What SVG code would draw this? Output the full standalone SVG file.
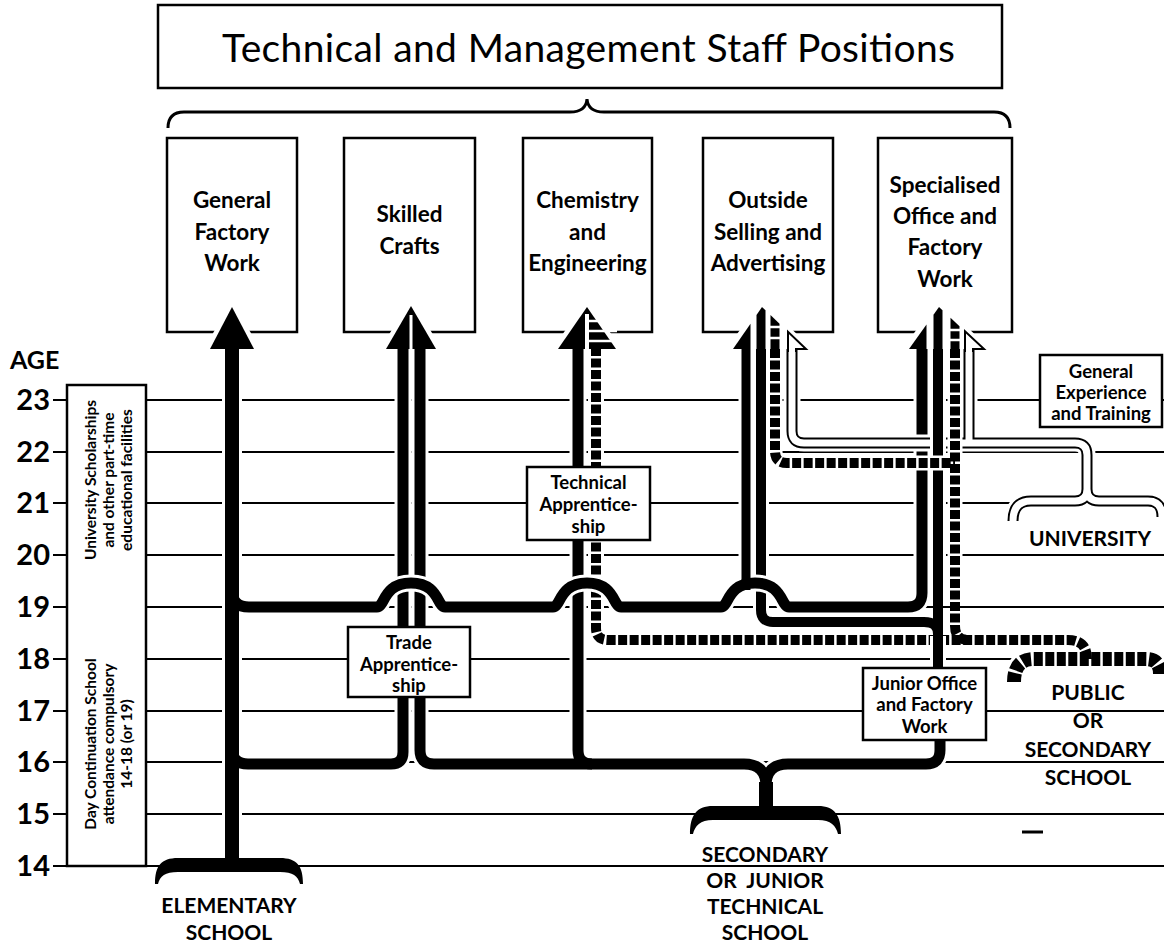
<svg xmlns="http://www.w3.org/2000/svg" width="1164" height="943" viewBox="0 0 1164 943">
<style>
 text{font-family:Lato,"Open Sans","DejaVu Sans",sans-serif;fill:#000}
 .t{font-size:39px}
 .lab{font-size:22.5px;font-weight:700;text-anchor:middle}
 .sm{font-size:18.5px;font-weight:700;text-anchor:middle}
 .sch{font-size:21px;font-weight:700;text-anchor:middle}
 .num{font-size:29px;font-weight:700;text-anchor:end}
 .rot{font-size:15.5px;font-weight:700;text-anchor:middle;dominant-baseline:central}
 .age{stroke:#000;stroke-width:2}
 .box{fill:#fff;stroke:#000;stroke-width:2.5}
 .h{fill:none;stroke:#fff}
 .k{fill:none;stroke:#000}
 .d{fill:none;stroke:#000;stroke-dasharray:9 2.5}
 .ho{fill:none;stroke:#000;stroke-width:11}
 .hi{fill:none;stroke:#fff;stroke-width:7}
 .w{fill:#fff}
 .b{fill:#000}
</style>
<rect width="1164" height="943" fill="#fff"/>

<g id="age-scale">
 <line class="age" x1="53" y1="866" x2="1164" y2="866"/>
 <line class="age" x1="53" y1="814" x2="1164" y2="814"/>
 <line class="age" x1="53" y1="762" x2="1164" y2="762"/>
 <line class="age" x1="53" y1="711" x2="1164" y2="711"/>
 <line class="age" x1="53" y1="659" x2="1164" y2="659"/>
 <line class="age" x1="53" y1="607" x2="1164" y2="607"/>
 <line class="age" x1="53" y1="555" x2="1164" y2="555"/>
 <line class="age" x1="53" y1="503" x2="1164" y2="503"/>
 <line class="age" x1="53" y1="452" x2="1164" y2="452"/>
 <line class="age" x1="53" y1="400" x2="1164" y2="400"/>
 <line x1="1022" y1="832" x2="1043" y2="832" stroke="#000" stroke-width="3"/>
 <text x="10" y="369" font-size="25" font-weight="700">AGE</text>
 <text class="num" x="50" y="410">23</text>
 <text class="num" x="50" y="462">22</text>
 <text class="num" x="50" y="513">21</text>
 <text class="num" x="50" y="565">20</text>
 <text class="num" x="50" y="617">19</text>
 <text class="num" x="50" y="669">18</text>
 <text class="num" x="50" y="721">17</text>
 <text class="num" x="50" y="772">16</text>
 <text class="num" x="50" y="824">15</text>
 <text class="num" x="50" y="876">14</text>
</g>

<g id="age-notes">
 <rect class="box" x="67" y="385" width="79" height="481"/>
 <text class="rot" transform="translate(90,480) rotate(-90)">University Scholarships</text>
 <text class="rot" transform="translate(108,480) rotate(-90)">and other part-time</text>
 <text class="rot" transform="translate(126,480) rotate(-90)">educational facilities</text>
 <text class="rot" transform="translate(90,744) rotate(-90)">Day Continuation School</text>
 <text class="rot" transform="translate(108,744) rotate(-90)">attendance compulsory</text>
 <text class="rot" transform="translate(126,744) rotate(-90)">14-18 (or 19)</text>
</g>

<g id="title">
 <rect class="box" x="158" y="5" width="844" height="83"/>
 <text class="t" x="222" y="62" textLength="733">Technical and Management Staff Positions</text>
 <path d="M168,128 Q168,112 184,112 L570,112 Q586,112 587,99 Q588,112 604,112 L994,112 Q1010,112 1010,128" fill="none" stroke="#000" stroke-width="3"/>
</g>

<g id="general-factory-work">
 <rect class="box" x="167" y="138" width="130" height="194"/>
 <text class="lab" x="232" y="208">General</text>
 <text class="lab" x="232" y="240">Factory</text>
 <text class="lab" x="232" y="271">Work</text>
</g>
<g id="skilled-crafts">
 <rect class="box" x="344" y="138" width="131" height="194"/>
 <text class="lab" x="409.5" y="222">Skilled</text>
 <text class="lab" x="409.5" y="254">Crafts</text>
</g>
<g id="chemistry-engineering">
 <rect class="box" x="523" y="138" width="129" height="194"/>
 <text class="lab" x="587.5" y="208">Chemistry</text>
 <text class="lab" x="587.5" y="240">and</text>
 <text class="lab" x="587.5" y="271">Engineering</text>
</g>
<g id="outside-selling">
 <rect class="box" x="703" y="138" width="130" height="194"/>
 <text class="lab" x="768" y="208">Outside</text>
 <text class="lab" x="768" y="240">Selling and</text>
 <text class="lab" x="768" y="271">Advertising</text>
</g>
<g id="specialised-office">
 <rect class="box" x="878" y="138" width="134" height="194"/>
 <text class="lab" x="945" y="193">Specialised</text>
 <text class="lab" x="945" y="224">Office and</text>
 <text class="lab" x="945" y="255">Factory</text>
 <text class="lab" x="945" y="287">Work</text>
</g>

<g id="connectors">
 <g>
  <path class="h" stroke-width="17" d="M766,806 L766,786 Q766,764 744,764 L434,764 Q420,764 420,750 L420,349"/>
  <path class="h" stroke-width="17" d="M766,786 Q766,764 788,764 L926,764 Q940,764 940,750 L940,741"/>
  <path class="h" stroke-width="17" d="M578,349 L578,750 Q578,764 592,764"/>
  <path class="k" stroke-width="11" d="M766,806 L766,786 Q766,764 744,764 L434,764 Q420,764 420,750 L420,349"/>
  <path class="k" stroke-width="11" d="M766,786 Q766,764 788,764 L926,764 Q940,764 940,750 L940,741"/>
  <path class="k" stroke-width="11" d="M578,349 L578,750 Q578,764 592,764"/>
  <path class="k" stroke-width="14" d="M766,812 L766,782"/>
 </g>
 <path class="h" stroke-width="20" d="M232,858 L232,349"/>
 <path class="k" stroke-width="14" d="M232,862 L232,349"/>
 <path class="h" stroke-width="17" d="M250,764 L391,764 Q403,764 403,752 L403,349"/>
 <path class="k" stroke-width="11" d="M232,748 Q232,764 248,764 L391,764 Q403,764 403,752 L403,349"/>
 <path class="h" stroke-width="20" d="M1014,682 Q1014,659 1034,659 L1146,659 Q1160,659 1160,674"/>
 <path class="h" stroke-width="16" d="M1087,659 Q1087,640 1068,640 L608,640 Q596,640 596,628 L596,349"/>
 <path class="d" stroke-width="14" stroke-dasharray="12 3" d="M1014,682 Q1014,659 1034,659 L1146,659 Q1160,659 1160,674"/>
 <path class="d" stroke-width="10" d="M1087,659 Q1087,640 1068,640 L608,640 Q596,640 596,628 L596,349"/>
 <path class="h" stroke-width="16" d="M761,349 L761,610 Q761,622 773,622 L918,622"/>
 <path class="k" stroke-width="10" d="M761,349 L761,610 Q761,622 773,622 L924,622 Q938,622 938,634 L938,640"/>
 <path class="h" stroke-width="17" d="M252,607 L377,607 C385,607 383,583 411,583 C439,583 437,607 445,607 L553,607 C561,607 559,583 587,583 C615,583 613,607 621,607 L721,607 C729,607 727,583 755,583 C783,583 781,607 789,607 L908,607 Q922,607 922,593 L922,349"/>
 <path class="h" stroke-width="15" d="M746,588 L746,349"/>
 <path class="k" stroke-width="11" d="M232,590 Q232,607 249,607 L377,607 C385,607 383,583 411,583 C439,583 437,607 445,607 L553,607 C561,607 559,583 587,583 C615,583 613,607 621,607 L721,607 C729,607 727,583 755,583 C783,583 781,607 789,607 L908,607 Q922,607 922,593 L922,349"/>
 <path class="k" stroke-width="9" d="M746,590 L746,349"/>
 <path class="h" stroke-width="17" d="M792,349 L792,431 Q792,443 804,443 L1075,443 Q1087,443 1087,455 L1087,490 M969,349 L969,443 M1013,521 Q1013,501 1031,501 L1075,501 Q1087,501 1087,489 Q1087,501 1099,501 L1148,501 Q1162,501 1162,517"/>
 <path class="ho" d="M792,349 L792,431 Q792,443 804,443 L1075,443 Q1087,443 1087,455 L1087,490 M969,349 L969,443 M1013,521 Q1013,501 1031,501 L1075,501 Q1087,501 1087,489 Q1087,501 1099,501 L1148,501 Q1162,501 1162,517"/>
 <path class="hi" d="M792,349 L792,431 Q792,443 804,443 L1075,443 Q1087,443 1087,455 L1087,490 M969,349 L969,443 M1013,521 Q1013,501 1031,501 L1075,501 Q1087,501 1087,489 Q1087,501 1099,501 L1148,501 Q1162,501 1162,517"/>
 <path class="h" stroke-width="16" d="M938,349 L938,600 M938,636 L938,668"/>
 <path class="k" stroke-width="10" d="M938,668 L938,349"/>
 <path class="h" stroke-width="15" d="M775,349 L775,451 Q775,463 787,463 L950,463 M955,349 L955,600"/>
 <path class="d" stroke-width="10" d="M775,349 L775,451 Q775,463 787,463 L955,463"/>
 <path class="d" stroke-width="10" d="M955,349 L955,626 Q955,640 969,640"/>

 <polygon class="w" points="204,349 232,300 260,349"/>
 <polygon class="w" points="380,349 411,299 442,349"/>
 <polygon class="w" points="552,349 587,300 622,349"/>
 <polygon class="w" points="726,349 762,300 812,349"/>
 <polygon class="w" points="902,349 939,300 990,349"/>

 <polygon class="b" points="210,349 232,307 254,349"/>

 <polygon class="b" points="386,349 411,306 436,349"/>
 <line x1="411" y1="315" x2="411" y2="350" stroke="#fff" stroke-width="3"/>

 <polygon class="b" points="558,349 587,307 616,349"/>
 <line x1="587" y1="314" x2="587" y2="350" stroke="#fff" stroke-width="4"/>
 <path d="M589,321 L617,321 M589,331 L617,331 M589,341 L617,341" stroke="#fff" stroke-width="2.5"/>

 <polygon class="b" points="733,349 750.5,323.7 750.5,349"/>
 <polygon class="b" points="756.5,349 756.5,315 762,307 765.5,310.3 765.5,349"/>
 <polygon class="b" points="770.5,349 770.5,315.1 779.5,323.7 779.5,349"/>
 <path d="M770,327 L780,327 M770,338 L780,338" stroke="#fff" stroke-width="2.5"/>
 <path d="M788,352 L788,331.8 L806,349 L796,349 L796,352" fill="#fff" stroke="#000" stroke-width="2"/>

 <polygon class="b" points="909,349 926.5,324.5 926.5,349"/>
 <polygon class="b" points="933.5,349 933.5,314.7 939,307 942.5,310.3 942.5,349"/>
 <polygon class="b" points="950.5,349 950.5,317.7 959.5,326.2 959.5,349"/>
 <path d="M950,330 L960,330 M950,340 L960,340" stroke="#fff" stroke-width="2.5"/>
 <path d="M965,352 L965,331.3 L984,349 L973,349 L973,352" fill="#fff" stroke="#000" stroke-width="2"/>
</g>

<g id="trade-apprenticeship">
 <rect class="box" x="348" y="627" width="122" height="70"/>
 <text class="sm" x="409" y="649">Trade</text>
 <text class="sm" x="409" y="671">Apprentice-</text>
 <text class="sm" x="409" y="692">ship</text>
</g>
<g id="technical-apprenticeship">
 <rect class="box" x="527" y="467" width="123" height="73"/>
 <text class="sm" x="588.5" y="489">Technical</text>
 <text class="sm" x="588.5" y="511">Apprentice-</text>
 <text class="sm" x="588.5" y="533">ship</text>
</g>
<g id="junior-office">
 <rect class="box" x="863" y="668" width="123" height="72"/>
 <text class="sm" x="924.5" y="690">Junior Office</text>
 <text class="sm" x="924.5" y="711">and Factory</text>
 <text class="sm" x="924.5" y="733">Work</text>
</g>
<g id="general-experience">
 <rect class="box" x="1040" y="355" width="122" height="72"/>
 <text class="sm" x="1101" y="378">General</text>
 <text class="sm" x="1101" y="399">Experience</text>
 <text class="sm" x="1101" y="420">and Training</text>
</g>

<g id="elementary-school">
 <path class="b" d="M155,884 C155,866 161,858 178,858 L280,858 C297,858 303,866 303,884 L300,884 C298,876 293,872 280,872 L178,872 C165,872 160,876 158,884 Z"/>
 <text class="sch" x="229" y="913">ELEMENTARY</text>
 <text class="sch" x="229" y="940">SCHOOL</text>
</g>
<g id="secondary-school">
 <path class="b" d="M690,834 C690,816 696,806 713,806 L818,806 C835,806 841,816 841,834 L838,834 C836,826 831,820 818,820 L713,820 C700,820 695,826 693,834 Z"/>
 <text class="sch" x="765" y="862">SECONDARY</text>
 <text class="sch" x="765" y="888" xml:space="preserve">OR  JUNIOR</text>
 <text class="sch" x="765" y="914">TECHNICAL</text>
 <text class="sch" x="765" y="940">SCHOOL</text>
</g>
<g id="university">
 <text class="sch" x="1090" y="546">UNIVERSITY</text>
</g>
<g id="public-school">
 <text class="sch" x="1088" y="700">PUBLIC</text>
 <text class="sch" x="1088" y="728">OR</text>
 <text class="sch" x="1088" y="757">SECONDARY</text>
 <text class="sch" x="1088" y="785">SCHOOL</text>
</g>
</svg>
